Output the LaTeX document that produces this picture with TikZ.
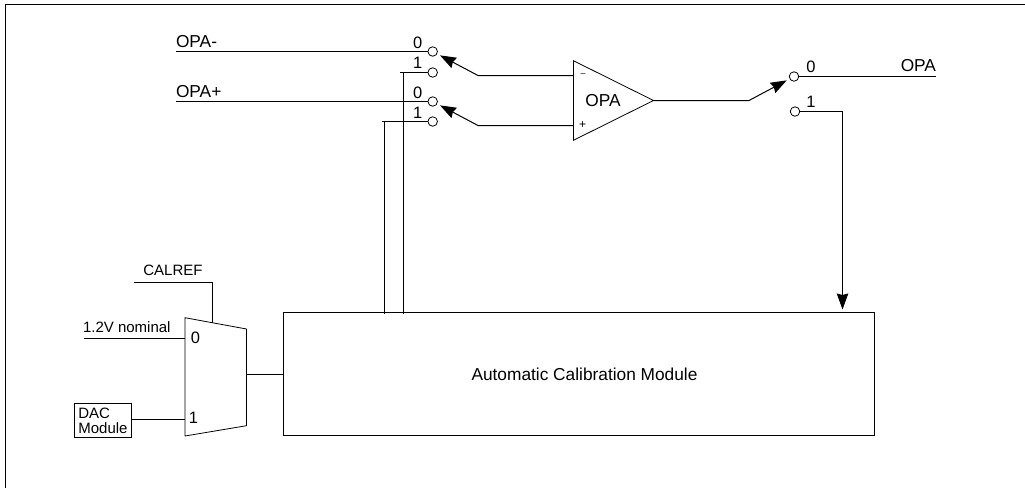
\documentclass[tikz,border=0pt]{standalone}
\usepackage{fontspec}
\setmainfont{Liberation Sans}
\usetikzlibrary{arrows.meta,positioning,shapes.geometric}

\begin{document}
\begin{tikzpicture}[x=1pt, y=-1pt, font=\fontsize{17.3}{17.3}\selectfont, line width=1pt,
  contact/.style={draw, circle, inner sep=0pt, outer sep=0pt, line width=0.8pt, minimum size=9.5pt},
  lab/.style={inner sep=0pt, outer sep=0pt},
  small/.style={font=\fontsize{15}{15}\selectfont},
  digit/.style={lab, font=\fontsize{16.5}{16.5}\selectfont},
  blockbox/.style={draw, inner sep=0pt, outer sep=0pt},
  tip/.style={-{Stealth[length=16pt, width=11.5pt, inset=1.5pt]}},
  arm/.style={tip, shorten >=3.5pt}]
\useasboundingbox (0,0) rectangle (1025,488);
% frame, open to the right and below
\coordinate (frameTL) at (5.5,4.5);
\draw (1025,4.5) -- (frameTL) -- (5.5,488);

% switches in front of the amplifier
\node[contact] (inN0) at (432.7,51.5) {};
\node[contact, below=11.5pt of inN0] (inN1) {};
\node[contact] (inP0) at (432.7,101.5) {};
\node[contact, below=10.5pt of inP0] (inP1) {};
\node[contact] (out0) at (794,76.5) {};
\node[contact] (out1) at (795,111.5) {};

% amplifier
\node[draw, isosceles triangle, isosceles triangle stretches, inner sep=0pt, outer sep=0pt, line width=0.8pt,
  minimum width=79.5pt, minimum height=80pt, anchor=apex] (opa) at (653.5,100.5) {};
\node[lab] (opaText) at (603,100.5) {OPA};
\node[lab, font=\fontsize{9}{9}\selectfont] (minus) at (583,75.5) {--};
\node[lab, font=\fontsize{12}{12}\selectfont] (plus) at (582.5,125) {+};

% blocks
\node[blockbox, minimum width=591pt, minimum height=123pt] (calib) at (579,374) {};
\node[lab] (calibText) at (584.5,374) {Automatic Calibration Module};
\coordinate (muxTL) at (185,317.7);
\coordinate (muxTR) at (246.5,329);
\coordinate (muxBR) at (246.5,425.7);
\coordinate (muxBL) at (185,436);
\coordinate (muxOut) at (246.5,374.5);
\draw[line width=0.8pt] (muxTL) -- (muxTR) -- (muxBR) -- (muxBL) -- cycle;
\node[blockbox, small, line width=0.8pt, minimum width=57pt, minimum height=34pt, align=left] (dac) at (103,420.5) {DAC\\Module};

% labels
\node[lab, anchor=west] (opaN) at (176,41.7) {OPA-};
\node[lab, anchor=west] (opaP) at (176,91.7) {OPA+};
\node[lab, anchor=east] (opaOut) at (936,66) {OPA};
\node[digit] at (417.7,43) {0};
\node[digit] at (417.7,63) {1};
\node[digit] at (417.7,93) {0};
\node[digit] at (417.7,113) {1};
\node[digit] at (811,67) {0};
\node[digit] at (811,102) {1};
\node[lab, small] (calref) at (173,270.5) {CALREF};
\node[lab, small, anchor=west] (nominal) at (83,327) {1.2V nominal};
\node[digit] at (195.5,338) {0};
\node[digit] at (193.5,417.7) {1};

% free ends
\coordinate (startN) at (176,51.5);
\coordinate (startP) at (176,101.5);
\coordinate (end0) at (936,76.5);
\coordinate (elbowN) at (478,75.5);
\coordinate (elbowP) at (478,125.5);
\coordinate (elbowOut) at (749,100.5);
\coordinate (startCal) at (134,282.5);
\coordinate (start12) at (84,338.5);
\coordinate (stub1) at (400,72.5);
\coordinate (stub2) at (382,121.5);

% connectors
\draw (startN) -- (inN0);
\draw (startP) -- (inP0);
\draw (stub1) -- (inN1);
\draw (stub2) -- (inP1);
\draw (403.5,72.5) -- ([yshift=-1.5pt]calib.north -| 403.5,0);
\draw (384.5,121.5) -- ([yshift=-1.5pt]calib.north -| 384.5,0);
\draw[arm] (opa.west |- elbowN) -- (elbowN) -- (inN0);
\draw[arm] (opa.west |- elbowP) -- (elbowP) -- (inP0);
\draw[arm] (opa.apex) -- (elbowOut) -- (out0);
\draw (out0) -- (end0);
\draw[tip] (out1) -| ([yshift=3pt]calib.north -| 842.5,0);
\draw (startCal) -| (212.5,322.5);
\draw (start12) -- (start12 -| muxTL);
\draw (dac.east |- 0,419.5) -- (185,419.5);
\draw (muxOut) -- (calib.west |- muxOut);
\end{tikzpicture}
\end{document}
